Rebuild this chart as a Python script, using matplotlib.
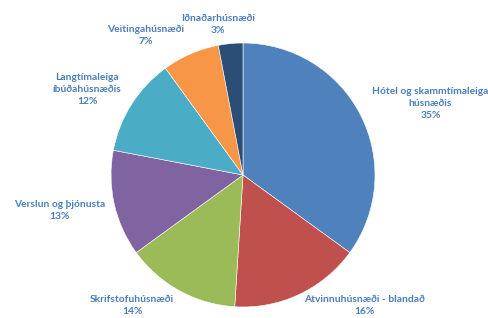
import matplotlib
matplotlib.use("Agg")
import matplotlib.pyplot as plt

categories = ["Hótel og skammtímaleiga\nhúsnæðis", "Atvinnuhúsnæði - blandað",
              "Skrifstofuhúsnæði", "Verslun og þjónusta",
              "Langtímaleiga\níbúðahúsnæðis", "Veitingahúsnæði", "Iðnaðarhúsnæði"]
shares = [35, 16, 14, 13, 12, 7, 3]
colors = ["#4F81BD", "#C0504D", "#9BBB59", "#8064A2", "#4BACC6", "#F79646", "#2C4D75"]

# label centres (data units, pie radius = 1)
label_pos = [(1.42, 0.54), (0.92, -0.99), (-0.84, -0.99), (-1.39, -0.27),
             (-1.18, 0.65), (-0.74, 1.06), (-0.19, 1.14)]

plt.rcParams['font.family'] = ['Lato', 'DejaVu Sans']

fig = plt.figure(figsize=(4.89, 3.18), dpi=100)
ax = fig.add_axes([0, 0, 1, 1])
ax.pie(shares, colors=colors, startangle=90, counterclock=False, radius=1,
       wedgeprops=dict(edgecolor="white", linewidth=0.4))
for lab, val, (x, y) in zip(categories, shares, label_pos):
    ax.text(x, y, lab + "\n" + str(val) + "%", ha="center", va="center",
            fontsize=7.4, fontweight="bold", color="#4A7EBB", linespacing=1.45)

ax.set_aspect("equal")
ax.set_xlim(-243 / 132, (489 - 243) / 132)
ax.set_ylim(-143 / 132, 175 / 132)
ax.axis("off")
fig.savefig("out.png", dpi=100)
